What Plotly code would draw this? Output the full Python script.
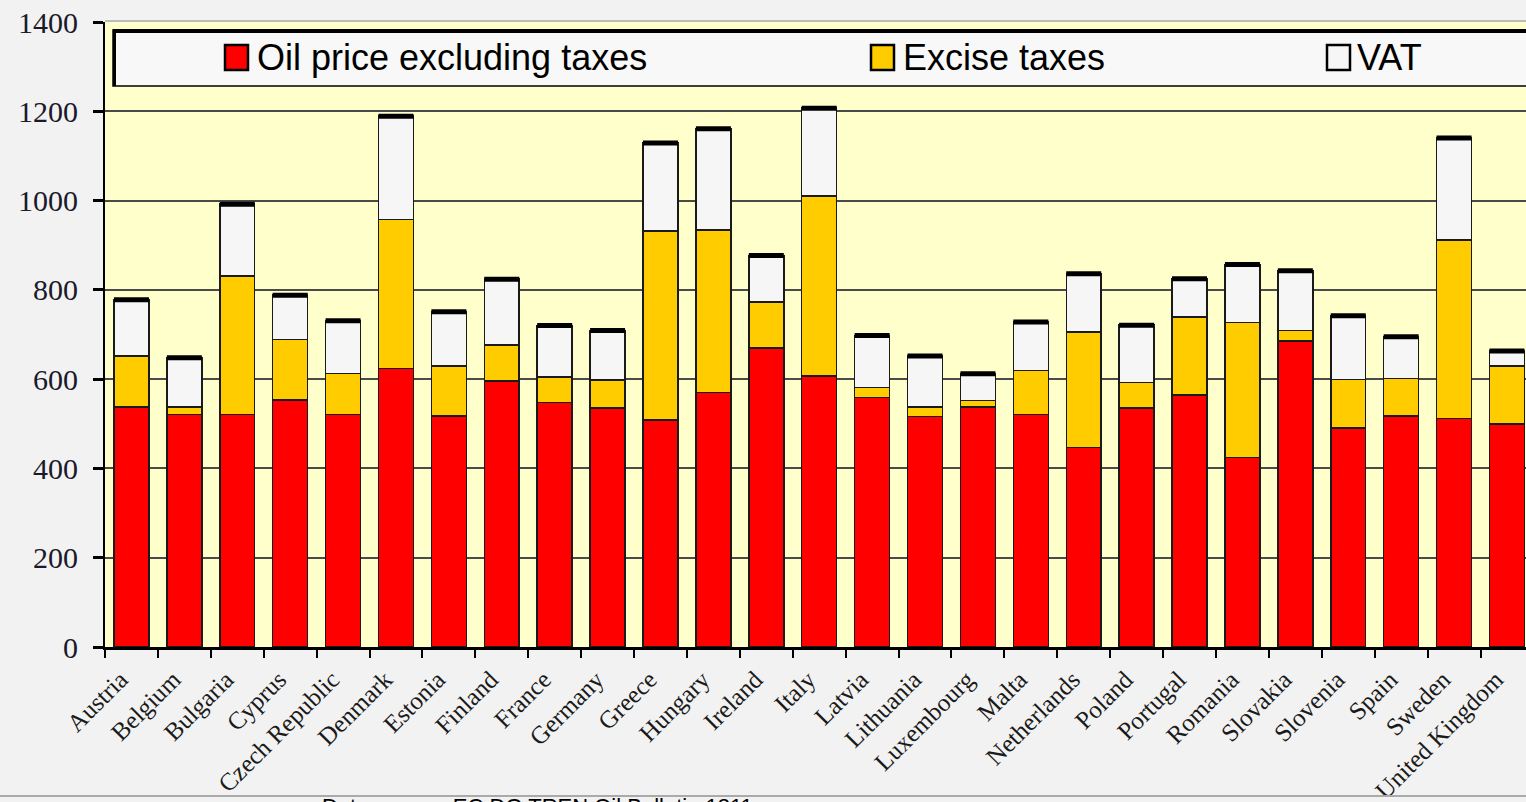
import plotly.graph_objects as go

countries = ["Austria", "Belgium", "Bulgaria", "Cyprus", "Czech Republic", "Denmark",
             "Estonia", "Finland", "France", "Germany", "Greece", "Hungary", "Ireland",
             "Italy", "Latvia", "Lithuania", "Luxembourg", "Malta", "Netherlands",
             "Poland", "Portugal", "Romania", "Slovakia", "Slovenia", "Spain", "Sweden",
             "United Kingdom"]

oil_price = [538, 521, 521, 553, 521, 624, 517, 596, 548, 535, 508, 570, 670, 607,
             559, 516, 538, 521, 447, 535, 564, 425, 685, 491, 518, 512, 499]
excise_taxes = [114, 17, 310, 136, 92, 334, 113, 80, 57, 63, 424, 364, 103, 403,
                22, 22, 14, 98, 259, 57, 175, 302, 24, 108, 84, 400, 131]
vat = [126, 110, 161, 99, 118, 231, 121, 148, 115, 111, 197, 227, 104, 197,
       117, 114, 60, 109, 130, 129, 86, 130, 134, 143, 93, 228, 33]

y_ticks = [0, 200, 400, 600, 800, 1000, 1200, 1400]

series_names = ["Oil price excluding taxes", "Excise taxes", "VAT"]
series_colors = ["#FF0000", "#FFCC00", "#F6F6F6"]

totals = [a + b + c for a, b, c in zip(oil_price, excise_taxes, vat)]

W, H = 1526, 802
L, T, B = 105, 22, 155
PW = W - L
PH = H - T - B


def px(xp):
    return (xp - L) / PW


def py(yp):
    return (H - B - yp) / PH


fig = go.Figure()
for name, vals, col in zip(series_names, [oil_price, excise_taxes, vat], series_colors):
    fig.add_trace(go.Bar(
        x=countries, y=vals, name=name, width=0.66,
        marker=dict(color=col, line=dict(color="#1a1a1a", width=1.5)),
        showlegend=False,
    ))

# dark cap on top of every column (shadow effect)
fig.add_trace(go.Scatter(
    x=countries, y=totals, mode="markers", showlegend=False, hoverinfo="skip",
    marker=dict(symbol="line-ew", size=25, line=dict(color="#000000", width=5)),
))

shapes = []
annotations = []

# legend box
shapes.append(dict(type="rect", xref="paper", yref="paper",
                   x0=px(113), x1=px(1560), y0=py(86), y1=py(30),
                   fillcolor="#F8F8F8", line=dict(color="#000000", width=1.5), layer="above"))
shapes.append(dict(type="line", xref="paper", yref="paper",
                   x0=px(113), x1=px(1560), y0=py(31), y1=py(31),
                   line=dict(color="#000000", width=4), layer="above"))
shapes.append(dict(type="line", xref="paper", yref="paper",
                   x0=px(114.5), x1=px(114.5), y0=py(30), y1=py(86),
                   line=dict(color="#000000", width=3), layer="above"))

legend_sq_x = [225, 871, 1327]
legend_txt_x = [255, 901, 1355]
for name, col, sx, tx in zip(series_names, series_colors, legend_sq_x, legend_txt_x):
    shapes.append(dict(type="rect", xref="paper", yref="paper",
                       x0=px(sx), x1=px(sx + 23), y0=py(70), y1=py(45),
                       fillcolor=col, line=dict(color="#000000", width=2.5), layer="above"))
    annotations.append(dict(xref="paper", yref="paper", x=px(tx), y=py(57),
                            xanchor="left", yanchor="middle", showarrow=False,
                            text=name,
                            font=dict(family="Liberation Sans, Arial", size=36, color="#000000")))

# top border of plot area
shapes.append(dict(type="line", xref="paper", yref="paper",
                   x0=0, x1=1, y0=py(21), y1=py(21),
                   line=dict(color="#A8A8A8", width=1.5), layer="above"))
# bottom slide line
shapes.append(dict(type="line", xref="paper", yref="paper",
                   x0=px(0), x1=1, y0=py(796), y1=py(796),
                   line=dict(color="#AAAAAA", width=2), layer="above"))

annotations.append(dict(xref="paper", yref="paper", x=px(320), y=py(792),
                        xanchor="left", yanchor="top", showarrow=False,
                        text="Data source: EC DG TREN Oil Bulletin 1311",
                        font=dict(family="Liberation Sans, Arial", size=22, color="#000000")))

fig.update_layout(
    width=W, height=H,
    margin=dict(l=L, r=0, t=T, b=B, pad=0),
    barmode="stack",
    paper_bgcolor="#F2F2F2",
    plot_bgcolor="#FFFFCC",
    shapes=shapes,
    annotations=annotations,
    showlegend=False,
    xaxis=dict(
        type="category", range=[-0.5, 26.36], automargin=False,
        showline=True, linecolor="#000000", linewidth=3,
        ticks="outside", tickson="boundaries", ticklen=8, tickwidth=2, tickcolor="#000000",
        tickangle=-45, ticklabelshift=-11, ticklabelstandoff=5,
        tickfont=dict(family="Liberation Serif, Times New Roman", size=25, color="#1a1a1a"),
        showgrid=False, zeroline=False,
    ),
    yaxis=dict(
        range=[0, 1400], automargin=False,
        tickvals=y_ticks, ticktext=[str(v) for v in y_ticks],
        showline=True, linecolor="#000000", linewidth=2,
        ticks="outside", ticklen=10, tickwidth=3, tickcolor="#000000",
        ticklabelstandoff=9,
        tickfont=dict(family="Liberation Serif, Times New Roman", size=30, color="#1a1a2a"),
        showgrid=True, gridcolor="#4A4A4A", gridwidth=1.5, zeroline=False,
    ),
)

fig.write_html(
    "out.html",
    config={"displayModeBar": False},
    post_script="document.body.style.margin='0';document.body.style.overflow='hidden';"
                "document.documentElement.style.overflow='hidden';",
)
